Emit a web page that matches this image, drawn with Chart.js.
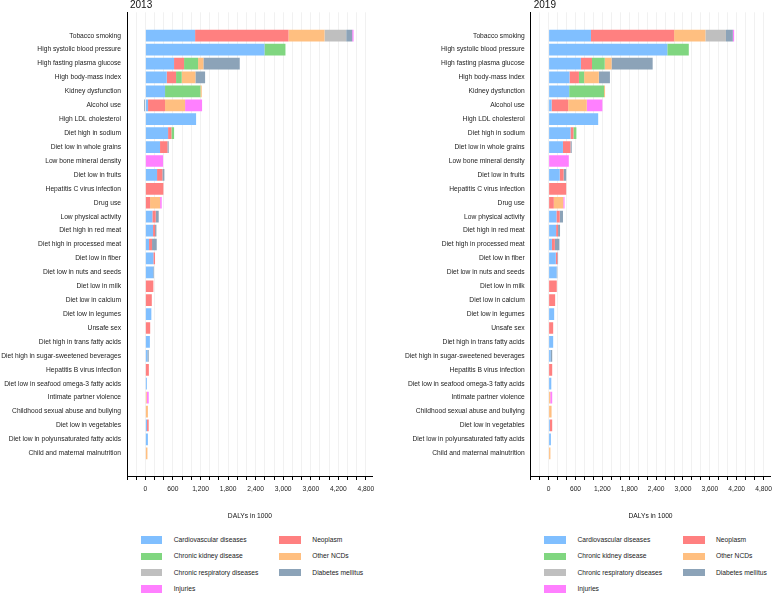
<!DOCTYPE html>
<html>
<head>
<meta charset="utf-8">
<script src="https://cdn.jsdelivr.net/npm/chart.js@4.4.1/dist/chart.umd.min.js"></script>
<style>
  body { margin: 0; background: #fff; width: 777px; height: 600px; overflow: hidden; position: relative;
         font-family: "Liberation Sans", Arial, Helvetica, sans-serif; }
  canvas { position: absolute; top: 0; }
  .lg-text { position: absolute; font-size: 6.7px; line-height: 8px; color: #222; white-space: nowrap; }
  .lg-box { position: absolute; width: 21.6px; height: 7.3px; }
</style>
</head>
<body>
<canvas id="chart2013" width="390" height="530" style="left:0"></canvas>
<canvas id="chart2019" width="387" height="530" style="left:390px"></canvas>
<div id="legends"></div>
<script>
// ---- data ----
const riskFactors = [
  "Tobacco smoking", "High systolic blood pressure", "High fasting plasma glucose",
  "High body-mass index", "Kidney dysfunction", "Alcohol use", "High LDL cholesterol",
  "Diet high in sodium", "Diet low in whole grains", "Low bone mineral density",
  "Diet low in fruits", "Hepatitis C virus infection", "Drug use", "Low physical activity",
  "Diet high in red meat", "Diet high in processed meat", "Diet low in fiber",
  "Diet low in nuts and seeds", "Diet low in milk", "Diet low in calcium",
  "Diet low in legumes", "Unsafe sex", "Diet high in trans fatty acids",
  "Diet high in sugar-sweetened beverages", "Hepatitis B virus infection",
  "Diet low in seafood omega-3 fatty acids", "Intimate partner violence",
  "Childhood sexual abuse and bullying", "Diet low in vegetables",
  "Diet low in polyunsaturated fatty acids", "Child and maternal malnutrition"
];
const seriesNames = ["Cardiovascular diseases", "Neoplasm", "Chronic kidney disease", "Other NCDs",
                     "Chronic respiratory diseases", "Diabetes mellitus", "Injuries"];
const seriesColors = ["#80bfff", "#ff8080", "#80d680", "#ffbf80", "#bfbfbf", "#8ca3b8", "#ff80ff"];
const xAxisTitle = "DALYs in 1000";
const xMin = -400, xMax = 4950, xStep = 200, xLabelEvery = 600;

// 2013
const cardio2013   = [1082, 2592, 624, 465, 428, 58, 1104, 494, 319, 0, 254, 0, 0, 152, 167, 80, 174, 172, 0, 0, 130, 0, 98, 44, 0, 32, 0, 0, 36, 55, 0];
const neoplasm2013 = [2033, 0, 218, 203, 0, 370, 0, 73, 160, 0, 116, 392, 102, 73, 44, 65, 36, 0, 174, 140, 0, 105, 0, 0, 76, 0, 0, 0, 36, 0, 0];
const kidney2013   = [0, 457, 305, 123, 770, 0, 0, 58, 0, 0, 0, 0, 0, 0, 0, 0, 0, 0, 0, 0, 0, 0, 0, 0, 0, 0, 0, 0, 0, 0, 0];
const otherNcd2013 = [784, 0, 116, 298, 29, 436, 0, 0, 0, 0, 0, 0, 218, 0, 0, 0, 0, 0, 0, 0, 0, 0, 0, 0, 0, 0, 29, 55, 0, 0, 45];
const resp2013     = [472, 0, 0, 0, 0, 0, 0, 0, 0, 0, 0, 0, 0, 0, 0, 0, 0, 0, 0, 0, 0, 0, 0, 0, 0, 0, 0, 0, 0, 0, 0];
const diabetes2013 = [131, 0, 791, 211, 0, -29, 0, 0, 29, 0, 44, 0, 0, 65, 29, 102, 0, 15, 0, 0, 0, 0, 0, 29, 0, 0, 0, 0, 0, 0, 0];
const injuries2013 = [29, 0, 0, 0, 0, 370, 0, 0, 0, 385, 0, 0, 36, 0, 0, 0, 0, 0, 0, 0, 0, 0, 0, 0, 0, 0, 44, 0, 0, 0, 0];

// 2019
const cardio2019   = [946, 2650, 721, 466, 459, 66, 1107, 488, 320, 0, 248, 0, 0, 175, 167, 73, 160, 178, 0, 0, 124, 0, 102, 44, 0, 60, 0, 0, 29, 51, 0];
const neoplasm2019 = [1856, 0, 248, 211, 0, 371, 0, 66, 167, 0, 87, 393, 116, 73, 44, 66, 36, 0, 182, 146, 0, 102, 0, 0, 80, 0, 0, 0, 51, 0, 0];
const kidney2019   = [0, 480, 284, 116, 779, 0, 0, 66, 0, 0, 0, 0, 0, 0, 0, 0, 0, 0, 0, 0, 0, 0, 0, 0, 0, 0, 0, 0, 0, 0, 0];
const otherNcd2019 = [699, 0, 153, 328, 22, 415, 0, 0, 0, 0, 0, 0, 211, 0, 0, 0, 0, 0, 0, 0, 0, 0, 0, 0, 0, 0, 36, 66, 0, 0, 40];
const resp2019     = [459, 0, 0, 0, 0, 0, 0, 0, 0, 0, 0, 0, 0, 0, 0, 0, 0, 0, 0, 0, 0, 0, 0, 0, 0, 0, 0, 0, 0, 0, 0];
const diabetes2019 = [153, 0, 917, 248, 0, -15, 0, 0, 29, 0, 58, 0, 0, 73, 44, 102, 15, 15, 0, 0, 0, 0, 0, 36, 0, 0, 0, 0, 0, 0, 0];
const injuries2019 = [29, 0, 0, 0, 0, 349, 0, 0, 0, 451, 0, 0, 29, 0, 0, 0, 0, 0, 0, 0, 0, 0, 0, 0, 0, 0, 44, 0, 0, 0, 0];

// ---- chart setup ----
const FONT = '"Liberation Sans", Arial, Helvetica, sans-serif';
Chart.defaults.font.family = FONT;

// empty space above the first and below the last row, in rows
const yMin = -1.68, yMax = riskFactors.length - 1 + 1.63;

// year label in the top left corner of the plot
const yearTitle = {
  id: 'yearTitle',
  afterDraw(chart, args, opts) {
    const ctx = chart.ctx;
    ctx.save();
    ctx.font = '10px ' + FONT;
    ctx.fillStyle = '#111';
    ctx.textBaseline = 'alphabetic';
    ctx.fillText(opts.text, chart.chartArea.left + 3, 7.6);
    ctx.restore();
  }
};

function makeChart(canvasId, year, series, yAxisWidth, padRight) {
  const datasets = seriesNames.map((name, k) => ({
    label: name,
    data: series[k].map((v, i) => ({ x: v, y: i })),
    backgroundColor: seriesColors[k],
    borderWidth: 0,
    barPercentage: 0.84,
    categoryPercentage: 1
  }));

  return new Chart(document.getElementById(canvasId), {
    type: 'bar',
    data: { datasets },
    plugins: [yearTitle],
    options: {
      indexAxis: 'y',
      responsive: false,
      animation: false,
      layout: { padding: { top: 12.3, right: padRight, bottom: 10, left: 0 } },
      plugins: {
        legend: { display: false },
        tooltip: { enabled: false },
        yearTitle: { text: year }
      },
      scales: {
        x: {
          type: 'linear', min: xMin, max: xMax, stacked: true,
          grid: { color: '#f1f1f1', tickColor: '#000', tickLength: 4 },
          border: { color: '#000', width: 1 },
          ticks: {
            autoSkip: false, maxRotation: 0, padding: 5, color: '#222',
            font: { size: 6.7 },
            callback: v => (v >= 0 && v % xLabelEvery === 0) ? v.toLocaleString('en-US') : ''
          },
          afterBuildTicks: s => {
            const t = [];
            for (let v = xMin; v <= xMax; v += xStep) t.push({ value: v });
            s.ticks = t;
            s.min = xMin;
            s.max = xMax;
          },
          title: { display: true, text: xAxisTitle, color: '#111', font: { size: 6.7 }, padding: { top: 0, bottom: 0 } },
          afterFit: s => { s.height = 44; }
        },
        y: {
          type: 'linear', min: yMin, max: yMax, reverse: true, stacked: true, offset: false,
          grid: { display: false, drawTicks: false, offset: false },
          border: { color: '#000', width: 1 },
          ticks: {
            autoSkip: false, padding: 6, color: '#222',
            font: { size: 6.7 },
            callback: v => riskFactors[v] ?? ''
          },
          afterBuildTicks: s => {
            s.ticks = riskFactors.map((_, i) => ({ value: i }));
            s.min = yMin;
            s.max = yMax;
          },
          afterFit: s => { s.width = yAxisWidth; }
        }
      }
    }
  });
}

makeChart('chart2013', '2013',
  [cardio2013, neoplasm2013, kidney2013, otherNcd2013, resp2013, diabetes2013, injuries2013], 127, 17.2);
makeChart('chart2019', '2019',
  [cardio2019, neoplasm2019, kidney2019, otherNcd2019, resp2019, diabetes2019, injuries2019], 140.7, 1.3);

// ---- legends (two columns under each panel) ----
const legendRoot = document.getElementById('legends');
const rowCenters = [540, 556.3, 572.7, 589];
[127, 530.7].forEach(axisX => {
  seriesNames.forEach((name, i) => {
    const col = i % 2, row = Math.floor(i / 2);
    const x0 = axisX + 13.7 + col * 138.6;
    const cy = rowCenters[row];
    const box = document.createElement('div');
    box.className = 'lg-box';
    box.style.left = x0 + 'px';
    box.style.top = (cy - 3.65) + 'px';
    box.style.background = seriesColors[i];
    const txt = document.createElement('div');
    txt.className = 'lg-text';
    txt.style.left = (x0 + 33) + 'px';
    txt.style.top = (cy - 4) + 'px';
    txt.textContent = name;
    legendRoot.appendChild(box);
    legendRoot.appendChild(txt);
  });
});
</script>
</body>
</html>
